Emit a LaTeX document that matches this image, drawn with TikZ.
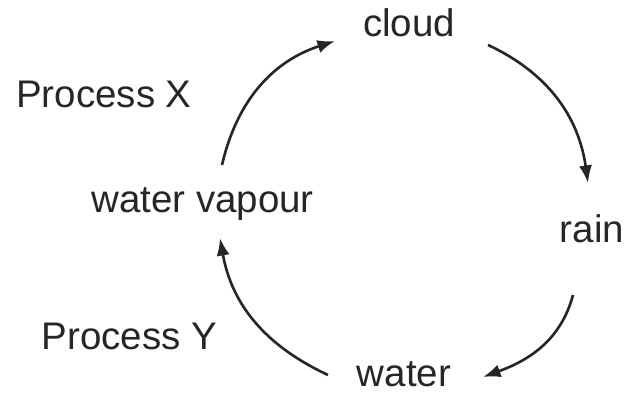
\documentclass[tikz,border=0pt]{standalone}
\usepackage{fontspec}
\setmainfont{Liberation Sans}
\usetikzlibrary{arrows.meta}

\begin{document}
\begin{tikzpicture}[font=\fontsize{21.9}{26}\selectfont,
    label/.style={anchor=base, inner sep=0pt, text=black!85},
    cyclearrow/.style={-{Latex[length=10pt, width=7.5pt]}, line width=1.5pt, black!85}]
    \useasboundingbox (0,0) rectangle (12.5,7.92);

    \node[label] (cloud) at (8.18,7.18) {cloud};
    \node[label] (rain) at (11.84,3.06) {rain};
    \node[label] (water) at (8.08,0.18) {water};
    \node[label] (vapour) at (4.05,3.66) {water vapour};
    \node[label] (procX) at (2.08,5.76) {Process X};
    \node[label] (procY) at (2.59,0.92) {Process Y};

    \coordinate (vapourtop) at (4.44,4.62);
    \coordinate (cloudin) at (6.70,7.10);
    \coordinate (cloudout) at (9.76,7.02);
    \coordinate (rainin) at (11.76,4.26);
    \coordinate (rainout) at (11.46,2.02);
    \coordinate (waterin) at (9.66,0.38);
    \coordinate (waterout) at (6.56,0.42);
    \coordinate (vapourbot) at (4.40,3.16);

    \draw[cyclearrow] (vapourtop) to[out=77, in=198] (cloudin);
    \draw[cyclearrow] (cloudout) to[out=-25, in=98] (rainin);
    \draw[cyclearrow] (rainout) to[out=-105, in=20] (waterin);
    \draw[cyclearrow] (waterout) to[out=155, in=-80] (vapourbot);
\end{tikzpicture}
\end{document}
